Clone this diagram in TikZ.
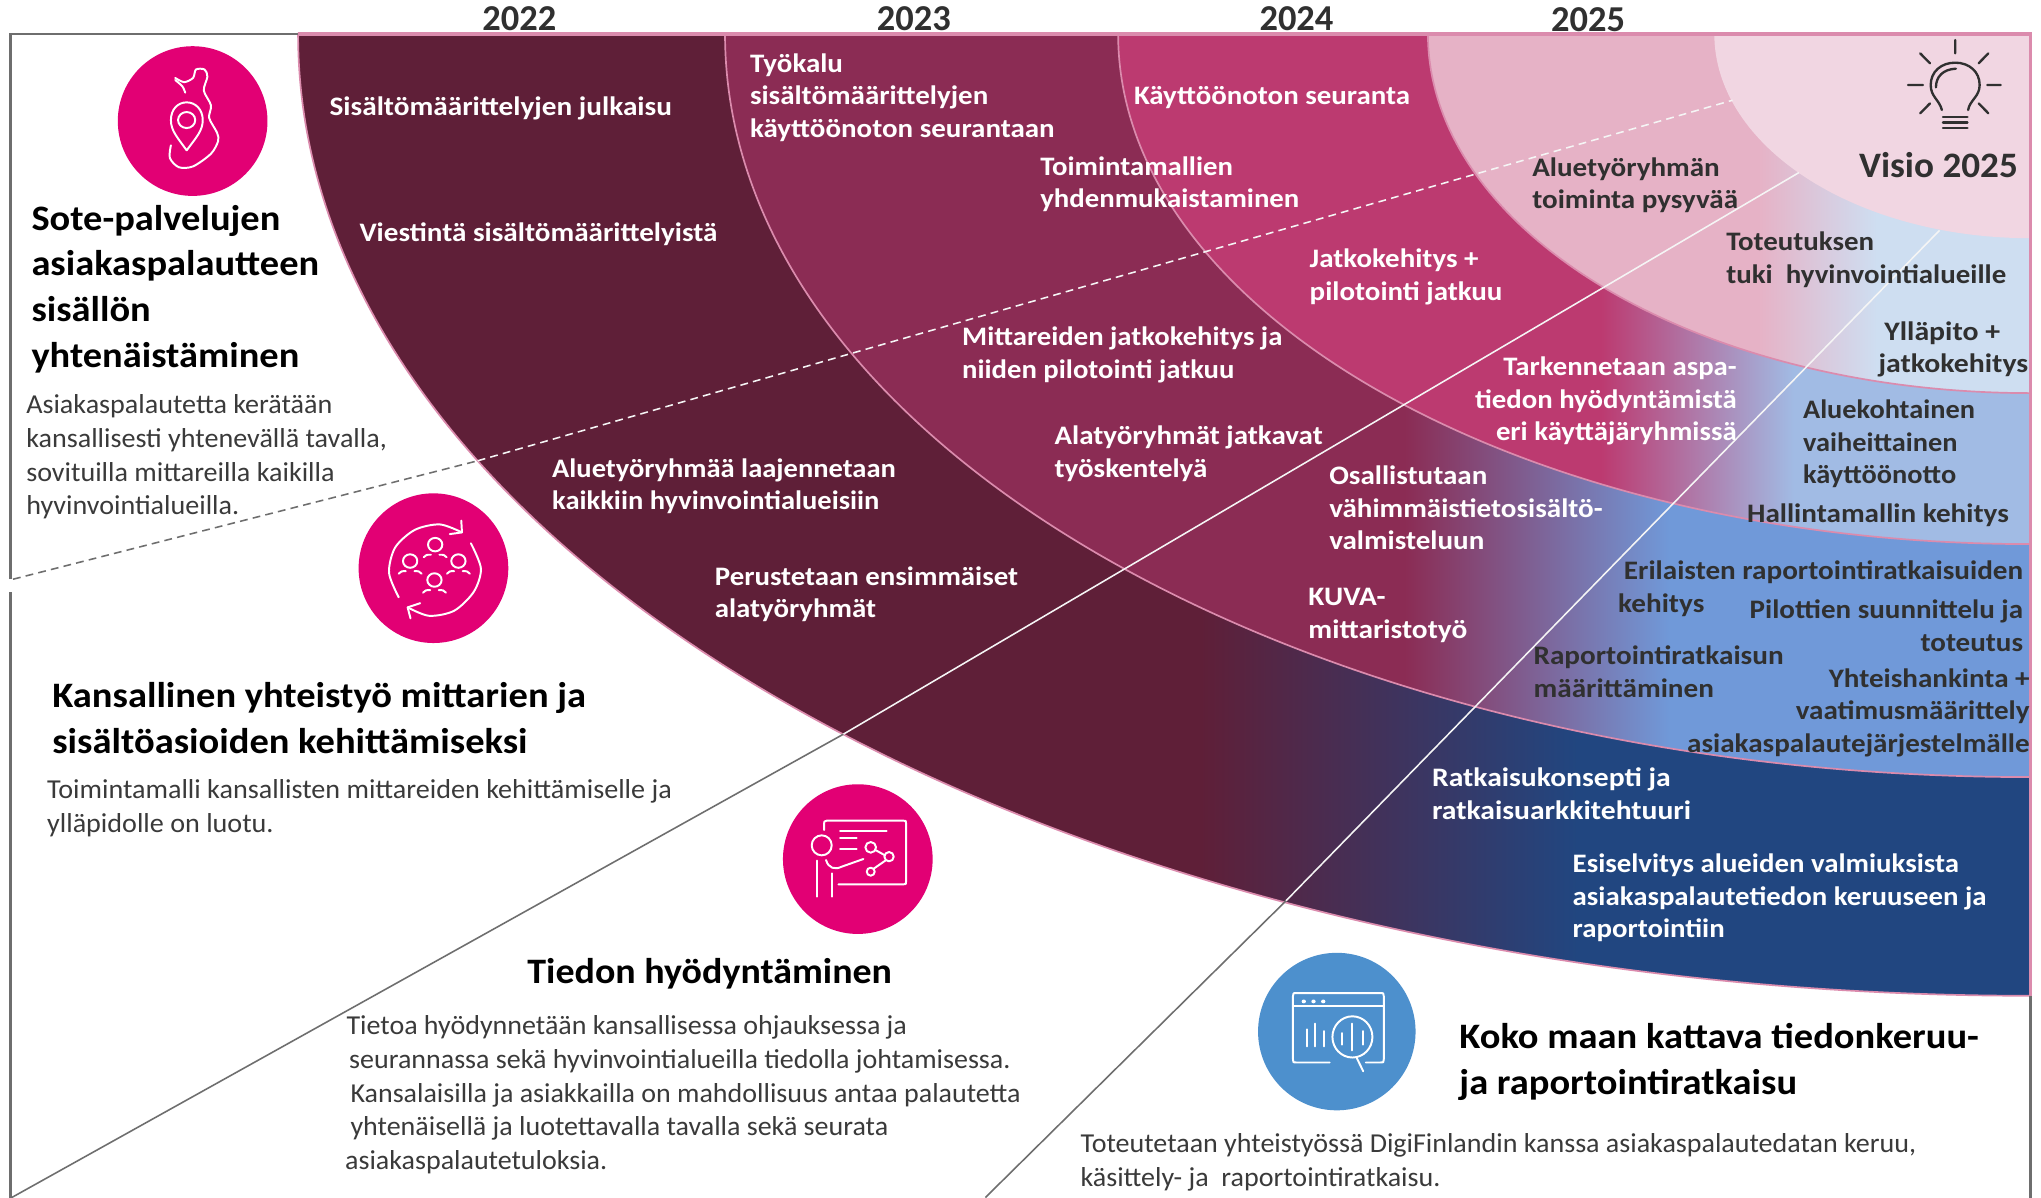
\documentclass[tikz,border=0pt]{standalone}
\usepackage{graphicx}
\usepackage{fontspec}
\setmainfont{Carlito}
\definecolor{aL}{HTML}{5F1F38}\definecolor{aR}{HTML}{214680}
\definecolor{bL}{HTML}{8B2C54}\definecolor{bR}{HTML}{7099D9}
\definecolor{cL}{HTML}{BC3A70}\definecolor{cR}{HTML}{A1BBE4}
\definecolor{dL}{HTML}{E6B2C6}\definecolor{dR}{HTML}{CEDEF1}
\definecolor{visio}{HTML}{F1D6E2}
\definecolor{edgepink}{HTML}{DB8BAD}
\definecolor{framegray}{HTML}{6E6E6E}
\definecolor{dotpink}{HTML}{E20074}
\definecolor{dotblue}{HTML}{4D90CD}
\definecolor{inkdark}{HTML}{303030}
\definecolor{inkbody}{HTML}{3A3A3A}
\pgfdeclarehorizontalshading{bandA}{100bp}{color(0bp)=(aL); color(51.03bp)=(aL); color(61.93bp)=(aR); color(100bp)=(aR)}
\pgfdeclarehorizontalshading{bandB}{100bp}{color(0bp)=(bL); color(51.02bp)=(bL); color(61.19bp)=(bR); color(100bp)=(bR)}
\pgfdeclarehorizontalshading{bandC}{100bp}{color(0bp)=(cL); color(51.46bp)=(cL); color(62.02bp)=(cR); color(100bp)=(cR)}
\pgfdeclarehorizontalshading{bandD}{100bp}{color(0bp)=(dL); color(52.43bp)=(dL); color(62.26bp)=(dR); color(100bp)=(dR)}
% name, style, left x, centre y, width, column alignment, lines
\newcommand\tx[7]{\node[#2,anchor=west,inner sep=0pt,yshift=-2.5pt] (#1) at (#3,#4) {\resizebox{#5pt}{\height}{\begin{tabular}{@{}#6@{}}#7\end{tabular}}};}
\tikzset{
  whitetxt/.style={text=white,font=\fontsize{20.5}{25}\selectfont\bfseries},
  darktxt/.style={text=inkdark,font=\fontsize{20.5}{25}\selectfont\bfseries},
  headtxt/.style={text=black,font=\fontsize{27.5}{35}\selectfont\bfseries},
  bodytxt/.style={text=inkbody,font=\fontsize{21}{25.8}\selectfont},
  yeartxt/.style={text=inkdark,font=\fontsize{28}{30}\selectfont\bfseries,anchor=center,inner sep=0pt},
  pinkdot/.style={circle,fill=dotpink,inner sep=0pt,minimum size=115pt},
  bluedot/.style={circle,fill=dotblue,inner sep=0pt,minimum size=121pt},
  iconline/.style={draw=white,line width=1.5pt,line cap=round,line join=round},
  bulbline/.style={draw=inkdark,line width=1.8pt,line cap=round,line join=round},
  bandedge/.style={draw=edgepink,line width=1.3pt},
  grayframe/.style={draw=framegray,line width=2pt},
  pinkframe/.style={draw=edgepink,line width=2.6pt},
  grayray/.style={draw=framegray,line width=1.2pt},
  whiteray/.style={draw=white!92!gray,line width=1.2pt},
}
\begin{document}
\begin{tikzpicture}[x=1pt,y=-1pt]
\useasboundingbox (0,0) rectangle (1568,920);
\fill[white] (0,0) rectangle (1568,920);
% bands
\shade[shading=bandA,bandedge] (229,26) arc[start angle=180,end angle=90,x radius=1331,y radius=739] -- (1560,26) -- cycle;
\shade[shading=bandB,bandedge] (557,26) arc[start angle=180,end angle=90,x radius=1003,y radius=571] -- (1560,26) -- cycle;
\shade[shading=bandC,bandedge] (859,26) arc[start angle=180,end angle=90,x radius=701,y radius=392] -- (1560,26) -- cycle;
\shade[shading=bandD,bandedge] (1097,26) arc[start angle=180,end angle=90,x radius=463,y radius=276] -- (1560,26) -- cycle;
\fill[visio] (1317,26) arc[start angle=180,end angle=90,x radius=243,y radius=157] -- (1560,26) -- cycle;
% frame
\draw[grayframe] (8,445) -- (8,26) -- (229,26);
\draw[grayframe] (8,455) -- (8,920);
\draw[grayframe] (1560,765) -- (1560,920);
\draw[pinkframe] (229,26) -- (1560,26) -- (1560,765);
% rays
\coordinate (da) at (10,445); \coordinate (db) at (367,354); \coordinate (dc) at (1331,77);
\draw[grayray,dash pattern=on 6pt off 4pt] (da) -- (db);
\draw[whiteray,dash pattern=on 6pt off 4pt] (db) -- (dc);
\coordinate (ea) at (9,920); \coordinate (eb) at (648,564); \coordinate (ec) at (1382,132.6);
\draw[grayray] (ea) -- (eb);
\draw[whiteray] (eb) -- (ec);
\coordinate (fa) at (757,920); \coordinate (fb) at (988,692); \coordinate (fc) at (1490,177);
\draw[grayray] (fa) -- (fb);
\draw[whiteray] (fb) -- (fc);
% dots
\node[pinkdot] (dotone) at (148,93) {};
\node[pinkdot] (dottwo) at (333,436.5) {};
\node[pinkdot] (dotthree) at (659,660) {};
\node[bluedot] (dotfour) at (1027,792.5) {};
% icon 1
\begin{scope}[x=0.2747pt,y=-0.3236pt]
\draw[iconline] plot[smooth,tension=.5] coordinates {(490,185)(515,195)(540,185)(548,165)(572,165)(580,182)(570,215)(590,250)(585,280)(607,315)(610,335)(590,365)(540,395)(500,397)(475,375)(478,345)};
\draw[iconline] plot[smooth] coordinates {(490,190)(510,205)(518,220)};
\draw[iconline] (522,357) .. controls (495,325) and (478,310) .. (478,285) .. controls (478,260) and (497,243) .. (522,243) .. controls (547,243) and (567,260) .. (567,285) .. controls (567,310) and (550,325) .. (522,357);
\draw[iconline] (522,285) ellipse[x radius=24,y radius=19];
\end{scope}
% icon 2
\begin{scope}[x=0.2747pt,y=-0.3236pt]
\draw[iconline] plot[smooth] coordinates {(1115,1418)(1088,1360)(1105,1300)(1160,1258)(1230,1245)(1292,1264)};
\draw[iconline] (1258,1268) -- (1292,1264) -- (1290,1236);
\draw[iconline] plot[smooth] coordinates {(1317,1290)(1345,1350)(1325,1405)(1270,1450)(1200,1462)(1140,1442)};
\draw[iconline] (1175,1432) -- (1140,1442) -- (1148,1468);
\foreach \hx/\hy in {1217/1293,1147/1332,1282/1332,1215/1377}{
  \draw[iconline] (\hx,\hy) ellipse[x radius=20,y radius=16];
  \draw[iconline] (\hx-32,\hy+30) .. controls (\hx-25,\hy+24) .. (\hx-12,\hy+24);
  \draw[iconline] (\hx+12,\hy+24) .. controls (\hx+25,\hy+24) .. (\hx+32,\hy+30);
}
\end{scope}
% icon 3
\begin{scope}[shift={(537.8,568.5)},x=0.2561pt,y=-0.2561pt]
\draw[iconline] (372,270) -- (372,252) .. controls (372,244) .. (380,242) -- (610,242) .. controls (618,242) .. (618,250) -- (618,425) .. controls (618,433) .. (610,433) -- (415,433);
\draw[iconline] (420,272) -- (560,272) (420,295) -- (470,295) (420,327) -- (470,327);
\draw[iconline] (365,316) circle[radius=30];
\draw[iconline] (378,360) .. controls (385,385) and (405,390) .. (425,380) -- (490,357);
\draw[iconline] (350,362) -- (350,470) (397,400) -- (397,470);
\draw[iconline] (512,322) circle[radius=16] (567,350) circle[radius=14] (512,395) circle[radius=12];
\draw[iconline] (526,330) -- (553,345) (557,361) -- (521,386);
\end{scope}
% icon 4
\begin{scope}[shift={(921.9,460.9)},x=0.4152pt,y=-0.2932pt]
\draw[iconline] (240,1212) -- (180,1212) .. controls (172,1212) .. (172,1204) -- (172,1038) .. controls (172,1030) .. (180,1030) -- (332,1030) .. controls (340,1030) .. (340,1038) -- (340,1204) .. controls (340,1212) .. (332,1212) -- (307,1212);
\draw[iconline] (172,1065) -- (340,1065);
\foreach \px in {192,210,228}{\fill[white] (\px,1052) ellipse[x radius=4,y radius=5];}
\draw[iconline] (198,1125) -- (198,1170) (213,1110) -- (213,1170) (230,1130) -- (230,1170);
\draw[iconline] (282,1145) ellipse[x radius=37,y radius=54];
\draw[iconline] (262,1135) -- (262,1165) (282,1110) -- (282,1180) (302,1130) -- (302,1165);
\draw[iconline] (290,1200) -- (302,1235);
\end{scope}
% bulb
\begin{scope}[shift={(1147.5,0)},x=0.2686pt,y=-0.2561pt]
\draw[bulbline] (1282,330) .. controls (1275,300) and (1250,290) .. (1250,255) .. controls (1250,215) and (1280,188) .. (1320,188) .. controls (1360,188) and (1390,215) .. (1390,255) .. controls (1390,290) and (1362,300) .. (1357,330);
\draw[bulbline] (1265,262) .. controls (1265,230) and (1285,208) .. (1322,206);
\draw[bulbline] (1285,350) -- (1355,350) (1285,367) -- (1355,367) (1285,384) -- (1355,384);
\draw[bulbline] (1320,120) -- (1320,160) (1220,160) -- (1248,190) (1415,160) -- (1387,190) (1185,255) -- (1228,255) (1412,255) -- (1450,255) (1220,340) -- (1248,310) (1415,340) -- (1387,310);
\end{scope}
% years
\node[yeartxt] (yA) at (399,14) {2022};
\node[yeartxt] (yB) at (702,14) {2023};
\node[yeartxt] (yC) at (996,14) {2024};
\node[yeartxt] (yD) at (1220,15) {2025};
% band text
\tx{ta}{whitetxt}{253}{81}{263}{l}{Sisältömäärittelyjen julkaisu}
\tx{tb}{whitetxt}{276}{178}{275}{l}{Viestintä sisältömäärittelyistä}
\tx{tc}{whitetxt}{576}{73}{234}{l}{Työkalu\\sisältömäärittelyjen\\käyttöönoton seurantaan}
\tx{td}{whitetxt}{871}{73}{212}{l}{Käyttöönoton seuranta}
\tx{te}{whitetxt}{799}{139.5}{199}{l}{Toimintamallien\\yhdenmukaistaminen}
\tx{tf}{darktxt}{1177}{140.5}{158}{l}{Aluetyöryhmän\\toiminta pysyvää}
\tx{tg}{darktxt}{1326}{197.5}{215}{l}{Toteutuksen\\tuki\ \ hyvinvointialueille}
\tx{th}{darktxt}{1443}{266.5}{115}{l}{\hspace*{4pt}Ylläpito +\\jatkokehitys}
\tx{ti}{whitetxt}{1006}{210.5}{148}{l}{Jatkokehitys +\\pilotointi jatkuu}
\tx{tj}{whitetxt}{739}{270.5}{246}{l}{Mittareiden jatkokehitys ja\\niiden pilotointi jatkuu}
\tx{tk}{whitetxt}{810}{346.5}{206}{l}{Alatyöryhmät jatkavat\\työskentelyä}
\tx{tl}{whitetxt}{424}{371.5}{264}{l}{Aluetyöryhmää laajennetaan\\kaikkiin hyvinvointialueisiin}
\tx{tm}{whitetxt}{549}{454.5}{233}{l}{Perustetaan ensimmäiset\\alatyöryhmät}
\tx{tn}{whitetxt}{1133}{306}{201}{r}{Tarkennetaan aspa-\\tiedon hyödyntämistä\\eri käyttäjäryhmissä}
\tx{to}{darktxt}{1385}{339}{132}{l}{Aluekohtainen\\vaiheittainen\\käyttöönotto}
\tx{tp}{darktxt}{1342}{394}{201}{l}{Hallintamallin kehitys}
\tx{tq}{darktxt}{1243}{450.5}{311}{l}{\hspace*{4pt}Erilaisten raportointiratkaisuiden\\kehitys}
\tx{tr}{darktxt}{1344}{480.5}{210}{r}{Pilottien suunnittelu ja\\toteutus}
\tx{ts}{darktxt}{1296}{545.5}{263}{r}{Yhteishankinta +\\vaatimusmäärittely\\asiakaspalautejärjestelmälle}
\tx{tt}{darktxt}{1178}{515.5}{192}{l}{Raportointiratkaisun\\määrittäminen}
\tx{tu}{whitetxt}{1021}{390}{210}{l}{Osallistutaan\\vähimmäistietosisältö-\\valmisteluun}
\tx{tv}{whitetxt}{1005}{470.5}{122}{l}{KUVA-\\mittaristotyö}
\tx{tw}{whitetxt}{1100}{609.5}{199}{l}{Ratkaisukonsepti ja\\ratkaisuarkkitehtuuri}
\tx{tx}{whitetxt}{1208}{688}{318}{l}{Esiselvitys alueiden valmiuksista\\asiakaspalautetiedon keruuseen ja\\raportointiin}
% Visio
\tx{visiotxt}{headtxt,text=inkdark}{1428}{127}{122}{l}{Visio 2025}
% headings
\tx{ha}{headtxt}{24}{220}{221}{l}{Sote-palvelujen\\asiakaspalautteen\\sisällön\\yhtenäistäminen}
\tx{hb}{headtxt}{40}{551.5}{410}{l}{Kansallinen yhteistyö mittarien ja\\sisältöasioiden kehittämiseksi}
\tx{hc}{headtxt}{405}{746}{280}{l}{Tiedon hyödyntäminen}
\tx{hd}{headtxt}{1121}{813.5}{399}{l}{Koko maan kattava tiedonkeruu-\\ja raportointiratkaisu}
% body
\tx{ba}{bodytxt}{20}{349}{277}{l}{Asiakaspalautetta kerätään\\kansallisesti yhtenevällä tavalla,\\sovituilla mittareilla kaikilla\\hyvinvointialueilla.}
\tx{bb}{bodytxt}{36}{619}{480}{l}{Toimintamalli kansallisten mittareiden kehittämiselle ja\\ylläpidolle on luotu.}
\tx{bc}{bodytxt}{265}{839}{519}{l}{\hspace*{1pt}Tietoa hyödynnetään kansallisessa ohjauksessa ja\\\hspace*{3pt}seurannassa sekä hyvinvointialueilla tiedolla johtamisessa.\\\hspace*{4pt}Kansalaisilla ja asiakkailla on mahdollisuus antaa palautetta\\\hspace*{4pt}yhtenäisellä ja luotettavalla tavalla sekä seurata\\asiakaspalautetuloksia.}
\tx{bd}{bodytxt}{830}{891}{642}{l}{Toteutetaan yhteistyössä DigiFinlandin kanssa asiakaspalautedatan keruu,\\käsittely- ja\ \ raportointiratkaisu.}
\end{tikzpicture}
\end{document}
